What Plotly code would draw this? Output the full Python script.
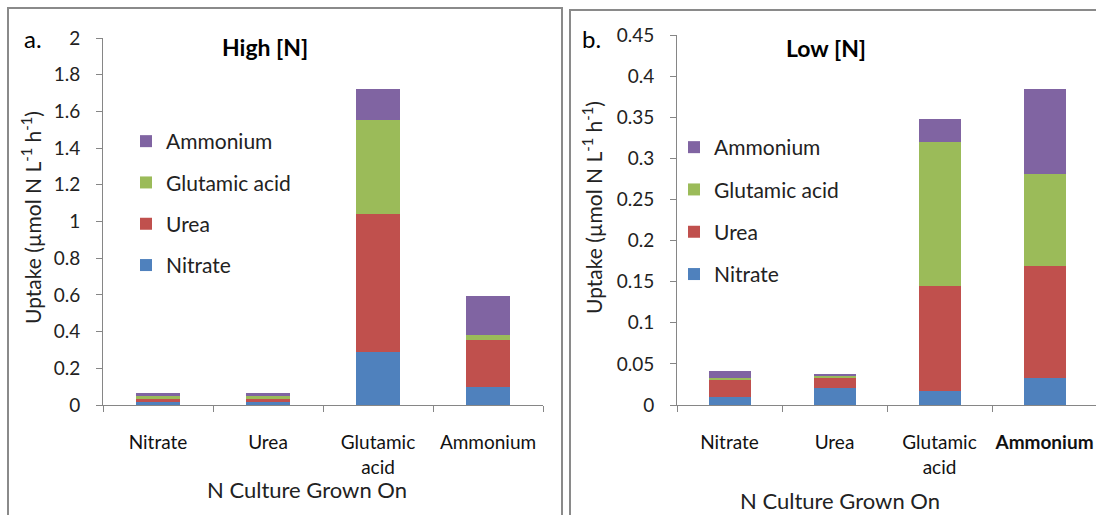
import plotly.graph_objects as go

W, H = 1096, 515

# Categories and uptake values (µmol N L-1 h-1), stacked by substrate
categories = ["Nitrate", "Urea", "Glutamic acid", "Ammonium"]
tick_text_high = ["Nitrate", "Urea", "Glutamic<br>acid", "Ammonium"]
tick_text_low = ["Nitrate", "Urea", "Glutamic<br>acid", "<b>Ammonium</b>"]
series_names = ["Nitrate", "Urea", "Glutamic acid", "Ammonium"]
series_colors = ["#4F81BD", "#C0504D", "#9BBB59", "#8064A2"]
legend_ranks = [4, 3, 2, 1]

high_nitrate = [0.017, 0.017, 0.290, 0.096]
high_urea = [0.016, 0.016, 0.753, 0.257]
high_glutamic = [0.017, 0.017, 0.512, 0.030]
high_ammonium = [0.016, 0.016, 0.165, 0.211]

low_nitrate = [0.010, 0.021, 0.017, 0.033]
low_urea = [0.020, 0.013, 0.128, 0.136]
low_glutamic = [0.0025, 0.002, 0.175, 0.112]
low_ammonium = [0.0085, 0.0015, 0.028, 0.103]

high_ticks = [0, 0.2, 0.4, 0.6, 0.8, 1.0, 1.2, 1.4, 1.6, 1.8, 2.0]
high_tick_text = ["0", "0.2", "0.4", "0.6", "0.8", "1", "1.2", "1.4", "1.6", "1.8", "2"]
low_ticks = [0, 0.05, 0.1, 0.15, 0.2, 0.25, 0.3, 0.35, 0.4, 0.45]
low_tick_text = ["0", "0.05", "0.1", "0.15", "0.2", "0.25", "0.3", "0.35", "0.4", "0.45"]

FONT = "Lato"
AXIS_GREY = "#868686"


def px_x(x):
    return x / W


def px_y(y):
    return 1 - y / H


fig = go.Figure()

high_sets = [high_nitrate, high_urea, high_glutamic, high_ammonium]
low_sets = [low_nitrate, low_urea, low_glutamic, low_ammonium]

for name, color, rank, vals in zip(series_names, series_colors, legend_ranks, high_sets):
    fig.add_trace(go.Bar(
        x=categories, y=vals, name=name, marker=dict(color=color, line=dict(width=0)),
        xaxis="x", yaxis="y", legend="legend", legendgroup="a_" + name, legendrank=rank,
    ))
for name, color, rank, vals in zip(series_names, series_colors, legend_ranks, low_sets):
    fig.add_trace(go.Bar(
        x=categories, y=vals, name=name, marker=dict(color=color, line=dict(width=0)),
        xaxis="x2", yaxis="y2", legend="legend2", legendgroup="b_" + name, legendrank=rank,
    ))

tick_font = dict(family=FONT, size=19, color="#222")
cat_font = dict(family=FONT, size=19, color="#111")

common_x = dict(
    type="category", categoryorder="array", categoryarray=categories,
    tickmode="array", tickvals=categories,
    showline=True, linecolor=AXIS_GREY, linewidth=1,
    ticks="outside", ticklen=6, tickcolor=AXIS_GREY, tickson="boundaries",
    showgrid=False, zeroline=False, tickfont=cat_font, ticklabelstandoff=20,
    fixedrange=True, automargin=False,
)
common_y = dict(
    showline=True, linecolor=AXIS_GREY, linewidth=1,
    ticks="outside", ticklen=6, tickcolor=AXIS_GREY,
    showgrid=False, zeroline=False, tickfont=tick_font, ticklabelstandoff=12,
    tickmode="array", fixedrange=True, automargin=False,
)

fig.update_layout(
    width=W, height=H,
    margin=dict(l=0, r=0, t=0, b=0, pad=0, autoexpand=False),
    paper_bgcolor="white", plot_bgcolor="white",
    barmode="stack", bargap=0.6,
    showlegend=True,
    xaxis=dict(common_x, domain=[px_x(103), px_x(543)], anchor="y", range=[-0.5, 3.5],
               ticktext=tick_text_high),
    yaxis=dict(common_y, domain=[px_y(405), px_y(38)], anchor="x", range=[0, 2],
               tickvals=high_ticks, ticktext=high_tick_text),
    xaxis2=dict(common_x, domain=[px_x(677), 1.0], anchor="y2",
                range=[-0.5, -0.5 + 4 * (W - 677) / 420], ticktext=tick_text_low),
    yaxis2=dict(common_y, domain=[px_y(405), px_y(35)], anchor="x2", range=[0, 0.45],
                tickvals=low_ticks, ticktext=low_tick_text),
    legend=dict(x=px_x(126), y=px_y(121), xanchor="left", yanchor="top",
                traceorder="grouped", tracegroupgap=11,
                font=dict(family=FONT, size=21, color="#222"), bgcolor="rgba(0,0,0,0)"),
    legend2=dict(x=px_x(674), y=px_y(127), xanchor="left", yanchor="top",
                 traceorder="grouped", tracegroupgap=12,
                 font=dict(family=FONT, size=21, color="#222"), bgcolor="rgba(0,0,0,0)"),
    shapes=[
        dict(type="rect", xref="paper", yref="paper", x0=px_x(8), x1=px_x(562),
             y0=-0.05, y1=px_y(8), line=dict(color="#8a8a8a", width=2)),
        dict(type="rect", xref="paper", yref="paper", x0=px_x(570), x1=1.05,
             y0=-0.05, y1=px_y(10), line=dict(color="#8a8a8a", width=2)),
    ],
)

ytitle = "Uptake (µmol N L<sup>-1</sup> h<sup>-1</sup>)"
annotations = [
    dict(text="a.", x=px_x(22), y=px_y(39), xanchor="left", yanchor="middle",
         font=dict(family=FONT, size=24, color="#000")),
    dict(text="b.", x=px_x(580), y=px_y(39), xanchor="left", yanchor="middle",
         font=dict(family=FONT, size=24, color="#000")),
    dict(text="<b>High [N]</b>", x=px_x(265), y=px_y(47), xanchor="center", yanchor="middle",
         font=dict(family=FONT, size=23, color="#000")),
    dict(text="<b>Low [N]</b>", x=px_x(826), y=px_y(48), xanchor="center", yanchor="middle",
         font=dict(family=FONT, size=23, color="#000")),
    dict(text=ytitle, x=px_x(31), y=px_y(218), textangle=-90, xanchor="center", yanchor="middle",
         font=dict(family=FONT, size=21, color="#222")),
    dict(text=ytitle, x=px_x(592), y=px_y(208), textangle=-90, xanchor="center", yanchor="middle",
         font=dict(family=FONT, size=21, color="#222")),
    dict(text="N Culture Grown On", x=px_x(307), y=px_y(489), xanchor="center", yanchor="middle",
         font=dict(family=FONT, size=22, color="#222")),
    dict(text="N Culture Grown On", x=px_x(840), y=px_y(500), xanchor="center", yanchor="middle",
         font=dict(family=FONT, size=22, color="#222")),
]
for a in annotations:
    a.update(xref="paper", yref="paper", showarrow=False)
fig.update_layout(annotations=annotations)

fig.write_html("out.html")
